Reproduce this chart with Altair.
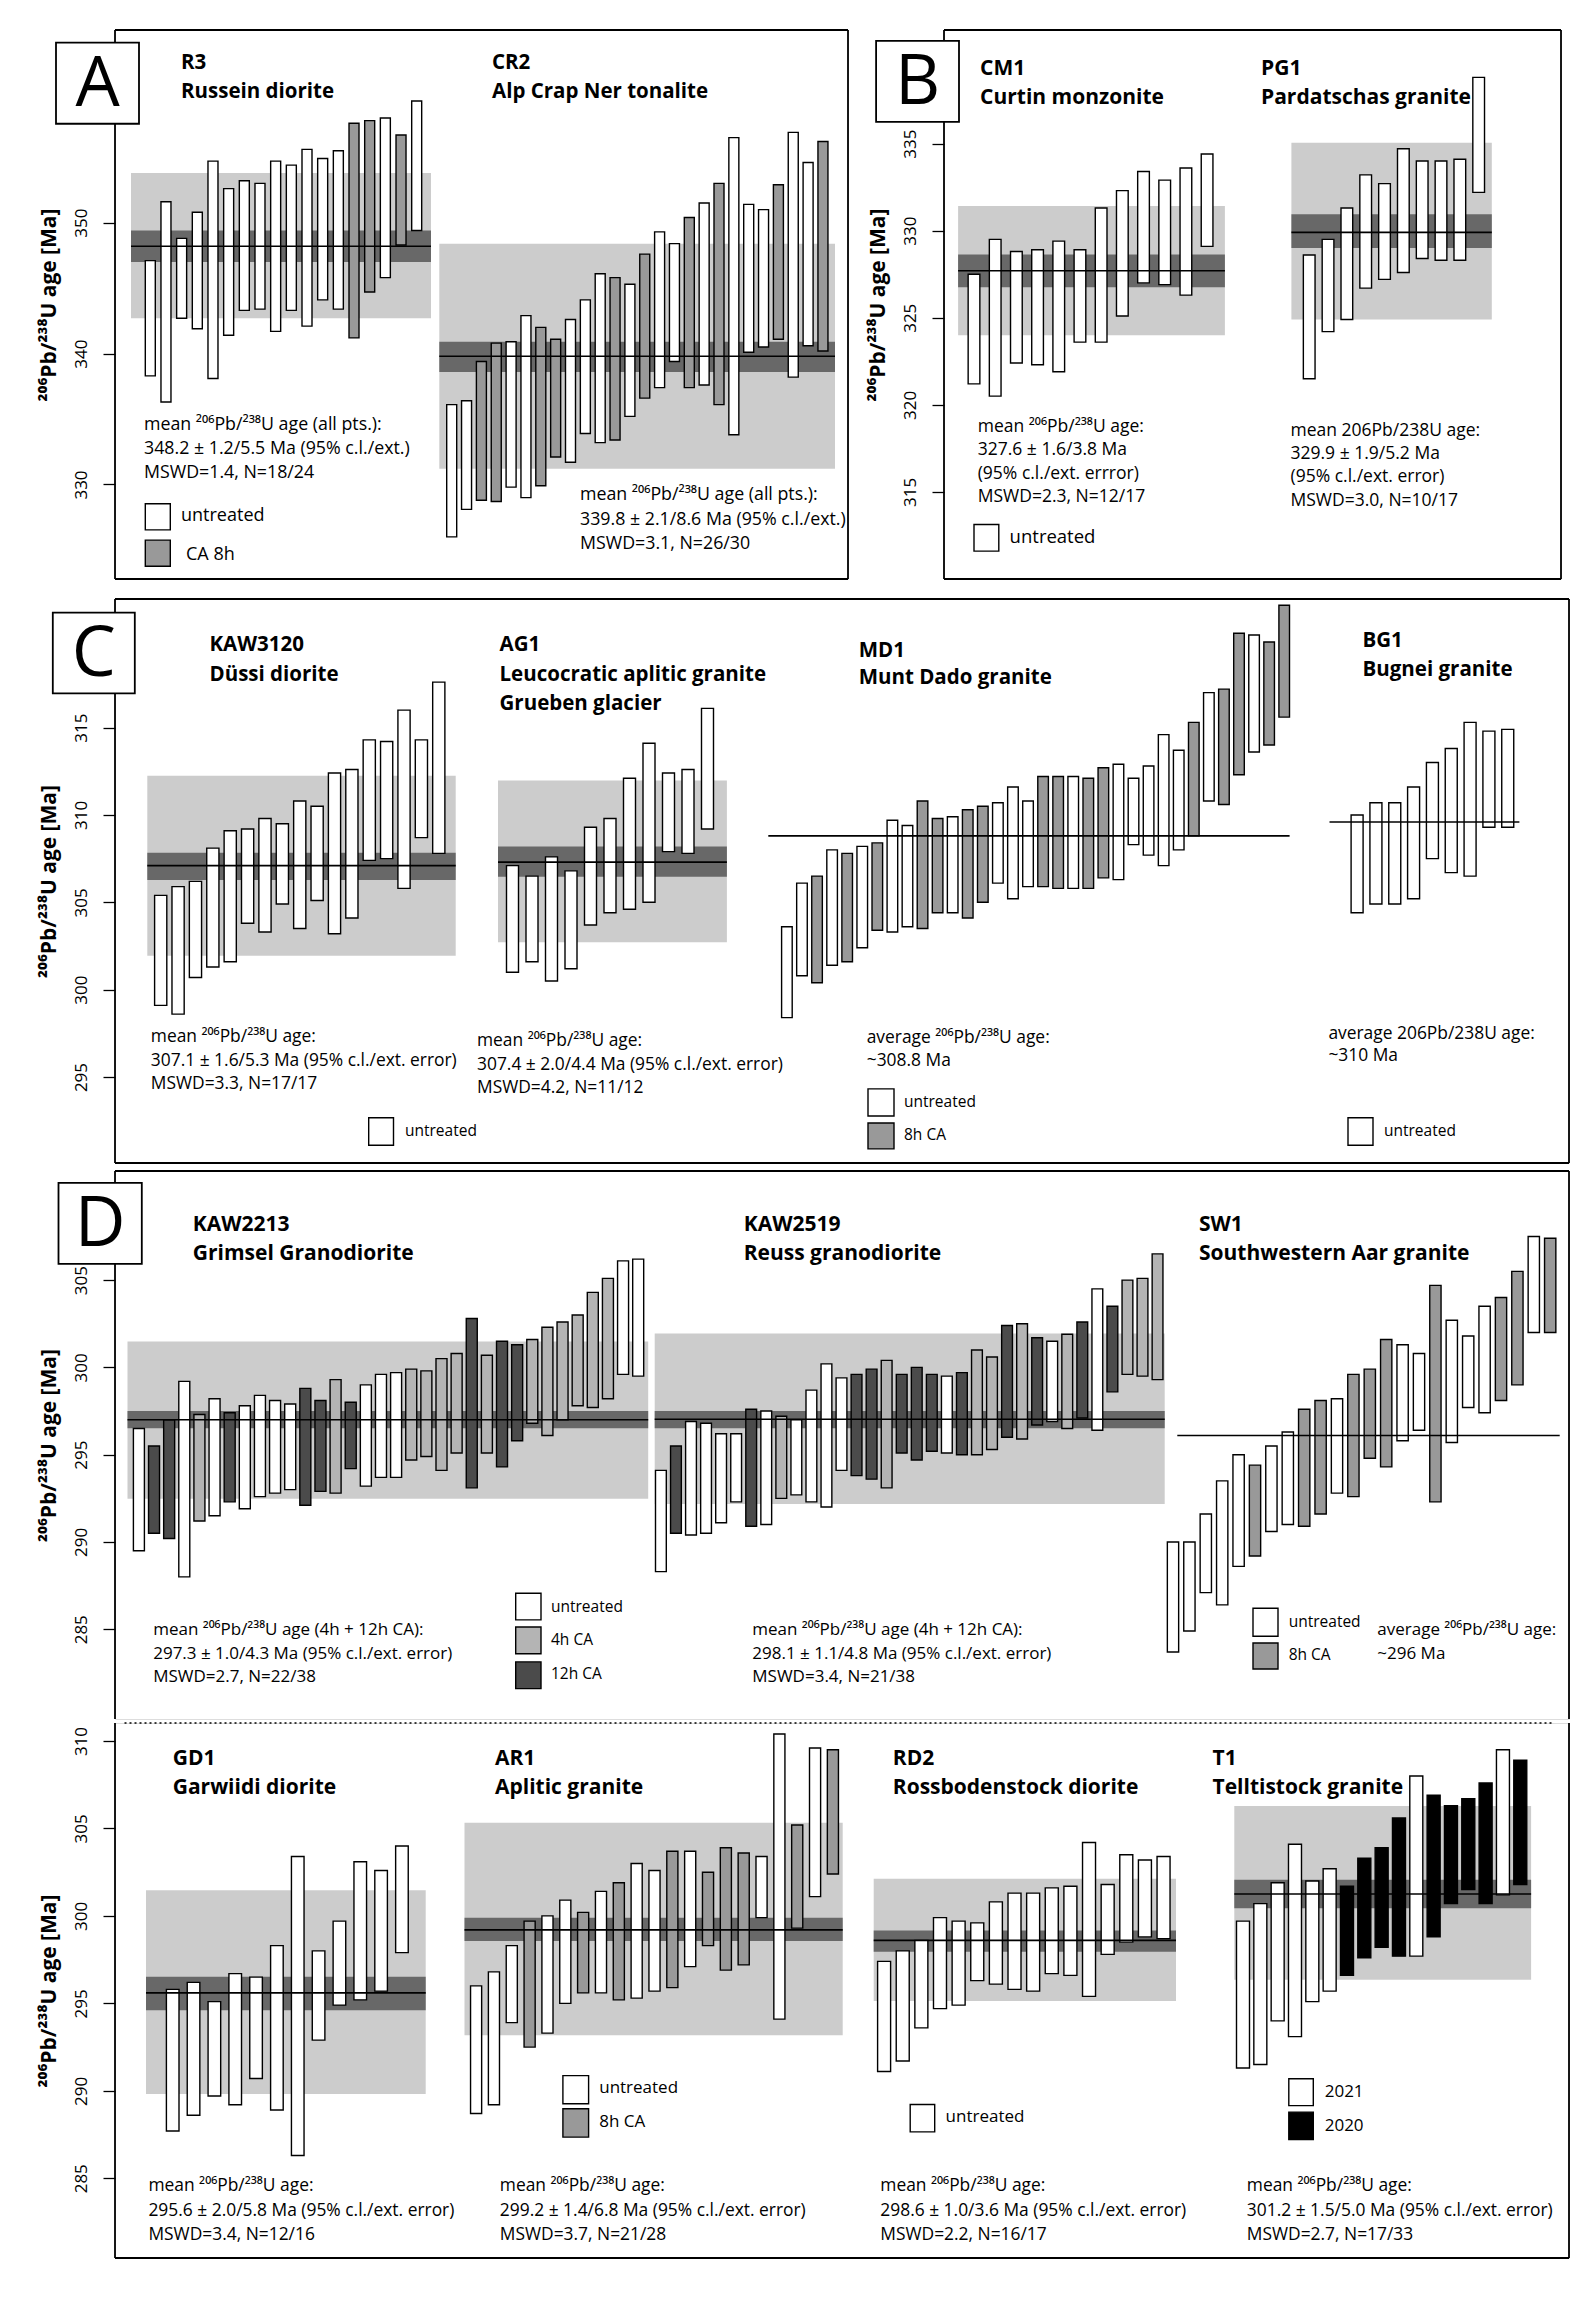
import altair as alt
import pandas as pd

FONT = "Open Sans"
FILL = {"U": "#ffffff", "G": "#999999", "L": "#b4b4b4", "D": "#4b4b4b", "K": "#000000"}
LIGHT_BAND = "#cccccc"
DARK_BAND = "#686868"
YTITLE = "²⁰⁶Pb/²³⁸U age [Ma]"

# ------------------------------------------------------------------ data
# A
R3_lo = [338.3, 336.3, 342.7, 341.9, 338.1, 341.4, 343.3, 343.4, 341.7, 343.3, 342.1, 344.1, 343.4, 341.2, 344.7, 345.8, 348.3, 349.4]
R3_hi = [347.1, 351.6, 348.8, 350.8, 354.7, 352.6, 353.2, 353.0, 354.7, 354.4, 355.6, 354.9, 355.5, 357.6, 357.8, 358.0, 356.7, 359.3]
R3_kind = "UUUUUUUUUUUUUGGUGU"
R3_sum = dict(mean=348.2, dark=(347.0, 349.4), light=(342.7, 353.8))

CR2_lo = [326.0, 328.1, 328.8, 328.7, 329.8, 329.0, 329.9, 332.1, 331.7, 333.9, 333.2, 333.4, 335.2, 336.6, 337.4, 339.4, 337.4, 337.6, 336.1, 333.8, 340.1, 340.5, 341.1, 338.2, 340.6, 340.2]
CR2_hi = [336.1, 336.4, 339.4, 340.8, 340.9, 342.9, 342.0, 341.1, 342.6, 344.1, 346.1, 345.8, 345.3, 347.6, 349.3, 348.4, 350.4, 351.5, 353.0, 356.5, 351.4, 351.0, 352.9, 356.9, 354.6, 356.2]
CR2_kind = "UUGGUUGGUUUGUGUUGUGUUUGUUG"
CR2_sum = dict(mean=339.8, dark=(338.6, 340.9), light=(331.2, 348.4))

# B
CM1_lo = [321.2, 320.5, 322.4, 322.3, 321.9, 323.6, 323.6, 325.1, 327.0, 326.9, 326.3, 329.1]
CM1_hi = [327.5, 329.5, 328.8, 328.9, 329.4, 328.9, 331.3, 332.3, 333.4, 332.9, 333.6, 334.4]
CM1_kind = "U" * 12
CM1_sum = dict(mean=327.7, dark=(326.75, 328.63), light=(324.0, 331.42))

PG1_lo = [321.5, 324.2, 324.9, 326.7, 327.2, 327.6, 328.4, 328.3, 328.3, 332.2]
PG1_hi = [328.6, 329.5, 331.3, 333.2, 332.7, 334.7, 334.0, 334.0, 334.1, 338.8]
PG1_kind = "U" * 10
PG1_sum = dict(mean=329.9, dark=(329.0, 330.94), light=(324.9, 335.04))

# C
KAW3120_lo = [299.1, 298.6, 300.7, 301.3, 301.6, 303.8, 303.3, 304.9, 303.5, 305.1, 303.2, 304.1, 307.4, 307.5, 305.8, 308.7, 307.8]
KAW3120_hi = [305.4, 305.9, 306.2, 308.1, 309.1, 309.2, 309.8, 309.5, 310.8, 310.5, 312.4, 312.6, 314.3, 314.2, 316.0, 314.3, 317.6]
KAW3120_kind = "U" * 17
KAW3120_sum = dict(mean=307.1, dark=(306.28, 307.84), light=(301.94, 312.24))

AG1_lo = [301.0, 301.6, 300.5, 301.2, 303.7, 304.4, 304.6, 305.0, 307.9, 307.8, 309.2]
AG1_hi = [307.1, 306.5, 307.6, 306.8, 309.3, 309.8, 312.1, 314.1, 312.4, 312.6, 316.1]
AG1_kind = "U" * 11
AG1_sum = dict(mean=307.3, dark=(306.47, 308.2), light=(302.72, 311.97))

MD1_lo = [298.4, 300.8, 300.4, 301.4, 301.6, 302.4, 303.4, 303.3, 303.6, 303.5, 304.4, 304.4, 304.1, 305.0, 306.1, 305.2, 305.9, 305.9, 305.8, 305.8, 305.8, 306.4, 306.3, 308.3, 307.7, 307.1, 308.0, 308.8, 310.8, 310.6, 312.3, 313.6, 314.0, 315.6]
MD1_hi = [303.6, 306.1, 306.5, 308.0, 307.8, 308.2, 308.4, 309.7, 309.4, 310.8, 309.8, 309.9, 310.3, 310.5, 310.7, 311.6, 310.8, 312.2, 312.2, 312.2, 312.1, 312.7, 312.9, 312.1, 312.8, 314.6, 313.7, 315.3, 317.0, 317.2, 320.4, 320.3, 319.9, 322.0]
MD1_kind = "UUGUGUGUUGGUGGUUUGGUGGUUUUUGUGGUGG"
MD1_avg = 308.8

BG1_lo = [304.4, 304.9, 304.9, 305.2, 307.5, 306.7, 306.5, 309.3, 309.3]
BG1_hi = [310.0, 310.7, 310.7, 311.6, 313.0, 313.8, 315.3, 314.8, 314.9]
BG1_kind = "U" * 9
BG1_avg = 309.6

# D (top row)
KAW2213_lo = [289.5, 290.5, 290.2, 288.0, 291.2, 291.5, 292.3, 291.9, 292.6, 292.8, 293.0, 292.1, 292.9, 292.8, 294.2, 293.2, 293.7, 293.7, 294.7, 294.9, 294.1, 295.1, 293.1, 295.1, 294.3, 295.8, 296.8, 296.1, 297.0, 297.8, 297.7, 298.2, 299.6, 299.5]
KAW2213_hi = [296.5, 295.5, 297.0, 299.2, 297.3, 298.2, 297.4, 297.8, 298.4, 298.1, 297.9, 298.8, 298.1, 299.3, 298.0, 299.0, 299.6, 299.7, 299.9, 299.8, 300.5, 300.8, 302.8, 300.7, 301.5, 301.3, 301.6, 302.3, 302.6, 303.0, 304.3, 305.1, 306.1, 306.2]
KAW2213_kind = "UDDULUDUUUUDDLDUUULLLLDLDDLLLLLLUU"
KAW2213_sum = dict(mean=297.0, dark=(296.52, 297.5), light=(292.47, 301.49))

KAW2519_lo = [288.3, 290.5, 290.4, 290.5, 291.1, 292.3, 290.9, 291.0, 292.5, 292.7, 292.3, 292.0, 294.1, 293.8, 293.6, 293.1, 295.1, 294.7, 295.2, 295.1, 295.0, 295.0, 295.3, 296.0, 295.9, 296.7, 296.9, 296.5, 297.1, 296.4, 298.6, 299.6, 299.5, 299.3]
KAW2519_hi = [294.1, 295.5, 296.9, 296.8, 296.2, 296.2, 297.6, 297.5, 297.2, 297.0, 298.7, 300.2, 299.4, 299.6, 299.9, 300.4, 299.6, 300.0, 299.6, 299.5, 299.7, 301.0, 300.6, 302.4, 302.5, 301.7, 301.5, 301.9, 302.6, 304.5, 303.5, 305.0, 305.1, 306.5]
KAW2519_kind = "UDUUUUDULUUUUDDLDDDUDLLDLDULDUDLLL"
KAW2519_sum = dict(mean=297.03, dark=(296.52, 297.5), light=(292.17, 301.94))

SW1_lo = [283.7, 284.9, 287.1, 286.4, 288.6, 289.2, 290.6, 291.0, 290.9, 291.6, 292.8, 292.6, 294.8, 294.3, 295.8, 296.4, 292.3, 295.7, 297.7, 297.4, 298.1, 299.0, 302.0, 302.0]
SW1_hi = [290.0, 290.0, 291.6, 293.5, 295.0, 294.4, 295.5, 296.3, 297.6, 298.1, 298.2, 299.6, 299.9, 301.6, 301.3, 300.8, 304.7, 302.7, 301.8, 303.5, 304.0, 305.5, 307.5, 307.4]
SW1_kind = "UUUUUGUUGGUGGGUUGUUUGGUG"
SW1_avg = 296.1

# D (bottom row)
GD1_lo = [287.7, 288.6, 289.7, 289.2, 290.7, 288.9, 286.3, 292.9, 294.9, 295.2, 295.7, 297.9]
GD1_hi = [295.8, 296.2, 295.1, 296.7, 296.5, 298.3, 303.4, 298.0, 299.7, 303.1, 302.6, 304.0]
GD1_kind = "U" * 12
GD1_sum = dict(mean=295.6, dark=(294.61, 296.52), light=(289.81, 301.47))

AR1_lo = [288.7, 289.2, 293.9, 292.5, 293.3, 295.0, 295.6, 295.6, 295.2, 295.3, 295.7, 295.9, 297.1, 298.3, 296.9, 297.2, 299.9, 294.1, 299.3, 301.1, 302.4]
AR1_hi = [296.0, 296.8, 298.3, 299.7, 300.0, 300.9, 300.2, 301.4, 301.9, 303.0, 302.6, 303.7, 303.7, 302.5, 303.9, 303.6, 303.4, 310.4, 305.2, 309.6, 309.5]
AR1_kind = "UUUGUUGUGUUGUGGGUUGUG"
AR1_sum = dict(mean=299.2, dark=(298.57, 299.89), light=(293.18, 305.33))

RD2_lo = [291.1, 291.7, 293.6, 294.7, 294.9, 296.3, 296.1, 295.8, 295.7, 296.7, 296.6, 295.4, 297.8, 298.5, 298.8, 298.7]
RD2_hi = [297.4, 298.0, 298.6, 299.9, 299.7, 299.6, 300.8, 301.3, 301.3, 301.6, 301.7, 304.2, 301.8, 303.5, 303.2, 303.4]
RD2_kind = "U" * 16
RD2_sum = dict(mean=298.6, dark=(297.95, 299.16), light=(295.14, 302.13))

T1_lo = [291.3, 291.5, 294.0, 293.1, 295.1, 295.7, 296.6, 297.6, 298.2, 297.7, 297.7, 298.8, 300.7, 301.5, 300.7, 301.2, 301.8]
T1_hi = [299.7, 300.7, 301.9, 304.1, 302.0, 302.7, 301.7, 303.3, 303.9, 305.6, 308.0, 306.9, 306.3, 306.7, 307.6, 309.5, 308.9]
T1_kind = "UUUUUUKKKKUKKKKUK"
T1_sum = dict(mean=301.25, dark=(300.44, 302.07), light=(296.35, 306.29))

# ------------------------------------------------------------------ text
MEAN = "mean ²⁰⁶Pb/²³⁸U age:"
AVG = "average ²⁰⁶Pb/²³⁸U age:"


def build(W, H, ydom, yticks, groups, titles, texts, legend_boxes, letter,
          frame, tsize, dotted=None):
    xs = alt.Scale(domain=[0, W], nice=False, zero=False)
    ys = alt.Scale(domain=list(ydom), nice=False, zero=False)
    yaxis = alt.Axis(values=yticks, title=YTITLE, domain=False, grid=False, ticks=True,
                     tickSize=12, tickColor="black", tickWidth=1.3,
                     labelAngle=270, labelAlign="center", labelBaseline="bottom",
                     labelPadding=13, labelFontSize=17, labelColor="black", labelFont=FONT,
                     titleFontSize=21, titleFontWeight="bold", titleFont=FONT,
                     titleColor="black", titlePadding=13)
    bars, bands, lines = [], [], []
    for g in groups:
        for i, (lo, hi, k) in enumerate(zip(g["lo"], g["hi"], g["kind"])):
            c = g["first"] + i * g["step"]
            bars.append(dict(x0=c - g["bw"] / 2, x1=c + g["bw"] / 2, y0=lo, y1=hi, fill=FILL[k]))
        if "sum" in g:
            s = g["sum"]
            bx0, bx1 = g["band"]
            bands.append(dict(x0=bx0, x1=bx1, y0=s["light"][0], y1=s["light"][1], fill=LIGHT_BAND))
            bands.append(dict(x0=bx0, x1=bx1, y0=s["dark"][0], y1=s["dark"][1], fill=DARK_BAND))
            lines.append(dict(x0=bx0, x1=bx1, y=s["mean"]))
        if "avg" in g:
            lines.append(dict(x0=g["band"][0], x1=g["band"][1], y=g["avg"]))
    for (x0, x1, y0, y1, k) in legend_boxes:
        bars.append(dict(x0=x0, x1=x1, y0=y0, y1=y1, fill=FILL[k]))

    ylo, yhi = ydom
    fr = []
    if "top" in frame:
        fr.append(dict(x0=0, x1=W, y0=yhi, y1=yhi))
    if "bottom" in frame:
        fr.append(dict(x0=0, x1=W, y0=ylo, y1=ylo))
    fr.append(dict(x0=0, x1=0, y0=ylo, y1=yhi))
    fr.append(dict(x0=W, x1=W, y0=ylo, y1=yhi))

    X = lambda f: alt.X(f, scale=xs, axis=None)
    Y = lambda f: alt.Y(f, scale=ys, axis=yaxis)

    band_layer = alt.Chart(pd.DataFrame(bands)).mark_rect(strokeWidth=0).encode(
        x=X("x0:Q"), x2="x1:Q", y=Y("y0:Q"), y2="y1:Q", fill=alt.Fill("fill:N", scale=None))

    bar_layer = alt.Chart(pd.DataFrame(bars)).mark_rect(stroke="black", strokeWidth=1.4).encode(
        x=X("x0:Q"), x2="x1:Q", y=Y("y0:Q"), y2="y1:Q",
        fill=alt.Fill("fill:N", scale=None))

    line_layer = alt.Chart(pd.DataFrame(lines)).mark_rule(color="black", strokeWidth=1.6).encode(
        x=X("x0:Q"), x2="x1:Q", y=Y("y:Q"))

    frame_layer = alt.Chart(pd.DataFrame(fr)).mark_rule(color="black", strokeWidth=1.8).encode(
        x=X("x0:Q"), x2="x1:Q", y=Y("y0:Q"), y2="y1:Q")

    layers = [band_layer, bar_layer, line_layer, frame_layer]

    if dotted is not None:
        dot_layer = alt.Chart(pd.DataFrame([dict(x0=dotted[0], x1=dotted[1], y=yhi)])).mark_rule(
            color="black", strokeWidth=1.3, strokeDash=[2, 3]).encode(
            x=X("x0:Q"), x2="x1:Q", y=Y("y:Q"))
        layers.append(dot_layer)

    if letter is not None:
        lx0, lx1, ly0, ly1, ch = letter
        lbox = alt.Chart(pd.DataFrame([dict(x0=lx0, x1=lx1, y0=ly0, y1=ly1)])).mark_rect(
            fill="white", stroke="black", strokeWidth=1.8).encode(
            x=X("x0:Q"), x2="x1:Q", y=Y("y0:Q"), y2="y1:Q")
        ltext = alt.Chart(pd.DataFrame([dict(x=(lx0 + lx1) / 2, y=(ly0 + ly1) / 2, t=ch)])).mark_text(
            fontSize=70, font=FONT, align="center", baseline="middle", dy=2, color="black").encode(
            x=X("x:Q"), y=Y("y:Q"), text="t:N")
        layers += [lbox, ltext]

    tdf = pd.DataFrame([dict(x=x, y=y, t=t) for (x, y, t) in titles])
    tl = alt.Chart(tdf).mark_text(fontSize=tsize, fontWeight="bold", font=FONT, align="left",
                                  baseline="middle", color="black").encode(
        x=X("x:Q"), y=Y("y:Q"), text="t:N")
    layers.append(tl)

    xdf = pd.DataFrame([dict(x=x, y=y, t=t, s=s) for (x, y, t, s) in texts])
    xl = alt.Chart(xdf).mark_text(font=FONT, align="left", baseline="middle", color="black").encode(
        x=X("x:Q"), y=Y("y:Q"), text="t:N", size=alt.Size("s:Q", scale=None))
    layers.append(xl)

    return alt.layer(*layers).properties(width=W, height=H)


def stat_lines(x, ys_, lines, s):
    return [(x, y, t, s) for y, t in zip(ys_, lines)]


# ------------------------------------------------------------------ section A
SA, LA = 17.8, 18
A = build(
    W=733, H=549, ydom=(322.78, 364.72), yticks=[330, 340, 350],
    groups=[
        dict(lo=R3_lo, hi=R3_hi, kind=R3_kind, sum=R3_sum, first=35.3, step=15.67, bw=10, band=(16, 316)),
        dict(lo=CR2_lo, hi=CR2_hi, kind=CR2_kind, sum=CR2_sum, first=336.7, step=14.85, bw=10, band=(324.3, 720)),
    ],
    titles=[(66, 362.2, "R3"), (66, 360.0, "Russein diorite"),
            (377, 362.2, "CR2"), (377, 360.0, "Alp Crap Ner tonalite")],
    texts=stat_lines(29, [334.58, 332.69, 330.89],
                     ["mean ²⁰⁶Pb/²³⁸U age (all pts.):", "348.2 ± 1.2/5.5 Ma (95% c.l./ext.)", "MSWD=1.4, N=18/24"], SA)
    + stat_lines(465, [329.17, 327.28, 325.47],
                 ["mean ²⁰⁶Pb/²³⁸U age (all pts.):", "339.8 ± 2.1/8.6 Ma (95% c.l./ext.)", "MSWD=3.1, N=26/30"], SA)
    + [(66, 327.56, "untreated", LA), (71, 324.58, "CA 8h", LA)],
    legend_boxes=[(30.3, 55.3, 326.53, 328.53, "U"), (30.3, 55.3, 323.75, 325.75, "G")],
    letter=(-59, 24, 357.56, 363.75, "A"),
    frame=("top", "bottom"), tsize=20.5)

# ------------------------------------------------------------------ section B
SB, LB = 17.5, 18.5
B = build(
    W=617, H=549, ydom=(310.0, 341.52), yticks=[315, 320, 325, 330, 335],
    groups=[
        dict(lo=CM1_lo, hi=CM1_hi, kind=CM1_kind, sum=CM1_sum, first=30, step=21.19, bw=11.7, band=(14.1, 280.9)),
        dict(lo=PG1_lo, hi=PG1_hi, kind=PG1_kind, sum=PG1_sum, first=365.2, step=18.83, bw=11.7, band=(347.4, 547.8)),
    ],
    titles=[(36.1, 339.27, "CM1"), (36.1, 337.6, "Curtin monzonite"),
            (317, 339.27, "PG1"), (317, 337.6, "Pardatschas granite")],
    texts=stat_lines(33.7, [318.71, 317.4, 316.04, 314.69],
                     [MEAN, "327.6 ± 1.6/3.8 Ma", "(95% c.l./ext. errror)", "MSWD=2.3, N=12/17"], SB)
    + stat_lines(346.5, [318.5, 317.19, 315.83, 314.48],
                 ["mean 206Pb/238U age:", "329.9 ± 1.9/5.2 Ma", "(95% c.l./ext. error)", "MSWD=3.0, N=10/17"], SB)
    + [(65.6, 312.4, "untreated", LB)],
    legend_boxes=[(30, 54.8, 311.6, 313.13, "U")],
    letter=(-67.9, 15, 336.25, 340.9, "B"),
    frame=("top", "bottom"), tsize=21)

# ------------------------------------------------------------------ section C
SC, LC = 17.4, 15.5
C = build(
    W=1454, H=564, ydom=(290.08, 322.36), yticks=[295, 300, 305, 310, 315],
    groups=[
        dict(lo=KAW3120_lo, hi=KAW3120_hi, kind=KAW3120_kind, sum=KAW3120_sum, first=45.7, step=17.38, bw=12.2, band=(32.3, 340.7)),
        dict(lo=AG1_lo, hi=AG1_hi, kind=AG1_kind, sum=AG1_sum, first=397.5, step=19.5, bw=12, band=(383, 611.9)),
        dict(lo=MD1_lo, hi=MD1_hi, kind=MD1_kind, avg=MD1_avg, first=671.9, step=15.07, bw=10.6, band=(653.3, 1174.6)),
        dict(lo=BG1_lo, hi=BG1_hi, kind=BG1_kind, avg=BG1_avg, first=1242.1, step=18.83, bw=12, band=(1214.5, 1404.4)),
    ],
    titles=[(94.5, 319.71, "KAW3120"), (94.5, 318.02, "Düssi diorite"),
            (384.5, 319.71, "AG1"), (384.5, 318.02, "Leucocratic aplitic granite"), (384.5, 316.33, "Grueben glacier"),
            (743.7, 319.4, "MD1"), (743.7, 317.81, "Munt Dado granite"),
            (1247.5, 319.93, "BG1"), (1247.5, 318.3, "Bugnei granite")],
    texts=stat_lines(35.8, [297.28, 295.9, 294.59],
                     [MEAN, "307.1 ± 1.6/5.3 Ma (95% c.l./ext. error)", "MSWD=3.3, N=17/17"], SC)
    + stat_lines(362, [297.07, 295.69, 294.38],
                 [MEAN, "307.4 ± 2.0/4.4 Ma (95% c.l./ext. error)", "MSWD=4.2, N=11/12"], SC)
    + stat_lines(751.7, [297.24, 295.9], [AVG, "~308.8 Ma"], SC)
    + stat_lines(1213.4, [297.49, 296.22], ["average 206Pb/238U age:", "~310 Ma"], SC)
    + [(290, 291.93, "untreated", LC), (789, 293.58, "untreated", LC), (789, 291.67, "8h CA", LC),
       (1269, 291.93, "untreated", LC)],
    legend_boxes=[(253.7, 278.5, 291.1, 292.67, "U"),
                  (753, 779, 292.77, 294.32, "U"), (753, 779, 290.89, 292.37, "G"),
                  (1233, 1258, 291.1, 292.67, "U")],
    letter=(-62.2, 19.8, 316.96, 321.58, "C"),
    frame=("top", "bottom"), tsize=20.5)

# ------------------------------------------------------------------ section D (top)
SD, LD = 17, 15.5
Dtop = build(
    W=1454, H=548, ydom=(279.86, 311.25), yticks=[285, 290, 295, 300, 305],
    groups=[
        dict(lo=KAW2213_lo, hi=KAW2213_hi, kind=KAW2213_kind, sum=KAW2213_sum, first=23.9, step=15.13, bw=11, band=(12.5, 533.2)),
        dict(lo=KAW2519_lo, hi=KAW2519_hi, kind=KAW2519_kind, sum=KAW2519_sum, first=545.9, step=15.05, bw=10.8, band=(539.7, 1049.7)),
        dict(lo=SW1_lo, hi=SW1_hi, kind=SW1_kind, avg=SW1_avg, first=1058, step=16.4, bw=11.3, band=(1062.3, 1444.7)),
    ],
    titles=[(77.8, 308.18, "KAW2213"), (77.8, 306.48, "Grimsel Granodiorite"),
            (628.7, 308.18, "KAW2519"), (628.7, 306.48, "Reuss granodiorite"),
            (1084, 308.18, "SW1"), (1084, 306.48, "Southwestern Aar granite")],
    texts=stat_lines(38.2, [284.97, 283.58, 282.25],
                     ["mean ²⁰⁶Pb/²³⁸U age (4h + 12h CA):", "297.3 ± 1.0/4.3 Ma (95% c.l./ext. error)", "MSWD=2.7, N=22/38"], SD)
    + stat_lines(637.3, [284.97, 283.58, 282.25],
                 ["mean ²⁰⁶Pb/²³⁸U age (4h + 12h CA):", "298.1 ± 1.1/4.8 Ma (95% c.l./ext. error)", "MSWD=3.4, N=21/38"], SD)
    + stat_lines(1262.3, [284.97, 283.58], [AVG, "~296 Ma"], SD)
    + [(436, 286.3, "untreated", LD), (436, 284.4, "4h CA", LD), (436, 282.41, "12h CA", LD),
       (1173.7, 285.44, "untreated", LD), (1173.7, 283.54, "8h CA", LD)],
    legend_boxes=[(400.7, 426, 285.54, 287.06, "U"), (400.7, 426, 283.6, 285.13, "L"), (400.7, 426, 281.6, 283.13, "D"),
                  (1138, 1163, 284.6, 286.2, "U"), (1138, 1163, 282.72, 284.21, "G")],
    letter=(-56.5, 26.8, 305.93, 310.57, "D"),
    frame=("top",), tsize=21)

# ------------------------------------------------------------------ section D (bottom)
SE, LE = 17.4, 17
Dbot = build(
    W=1454, H=535, ydom=(280.44, 311.03), yticks=[285, 290, 295, 300, 305, 310],
    groups=[
        dict(lo=GD1_lo, hi=GD1_hi, kind=GD1_kind, sum=GD1_sum, first=57.7, step=20.84, bw=12.6, band=(31, 310.7)),
        dict(lo=AR1_lo, hi=AR1_hi, kind=AR1_kind, sum=AR1_sum, first=361.1, step=17.84, bw=11.1, band=(349.5, 727.7)),
        dict(lo=RD2_lo, hi=RD2_hi, kind=RD2_kind, sum=RD2_sum, first=769.1, step=18.63, bw=13, band=(758.7, 1061)),
        dict(lo=T1_lo, hi=T1_hi, kind=T1_kind, sum=T1_sum, first=1128, step=17.33, bw=13, band=(1119.3, 1416.1)),
    ],
    titles=[(57.7, 308.96, "GD1"), (57.7, 307.31, "Garwiidi diorite"),
            (380, 308.96, "AR1"), (380, 307.31, "Aplitic granite"),
            (777.8, 308.96, "RD2"), (777.8, 307.31, "Rossbodenstock diorite"),
            (1097.5, 308.96, "T1"), (1097.5, 307.31, "Telltistock granite")],
    texts=stat_lines(33.4, [284.53, 283.1, 281.78],
                     [MEAN, "295.6 ± 2.0/5.8 Ma (95% c.l./ext. error)", "MSWD=3.4, N=12/16"], SE)
    + stat_lines(384.8, [284.53, 283.1, 281.78],
                 [MEAN, "299.2 ± 1.4/6.8 Ma (95% c.l./ext. error)", "MSWD=3.7, N=21/28"], SE)
    + stat_lines(765.3, [284.53, 283.1, 281.78],
                 [MEAN, "298.6 ± 1.0/3.6 Ma (95% c.l./ext. error)", "MSWD=2.2, N=16/17"], SE)
    + stat_lines(1131.8, [284.53, 283.1, 281.78],
                 [MEAN, "301.2 ± 1.5/5.0  Ma (95% c.l./ext. error)", "MSWD=2.7, N=17/33"], SE)
    + [(484.2, 290.14, "untreated", LE), (484.2, 288.23, "8h CA", LE),
       (830.6, 288.49, "untreated", LE),
       (1209.7, 289.92, "2021", LE), (1209.7, 288.0, "2020", LE)],
    legend_boxes=[(447.9, 473.6, 289.26, 290.87, "U"), (447.9, 473.6, 287.35, 288.97, "G"),
                  (795.2, 819.7, 287.65, 289.22, "U"),
                  (1173.8, 1198.3, 289.15, 290.69, "U"), (1173.8, 1198.3, 287.21, 288.78, "K")],
    letter=None,
    frame=("bottom",), tsize=21, dotted=(9.5, 1439))

ind = dict(x="independent", y="independent")
row1 = alt.hconcat(A, B, spacing=96, bounds="flush").resolve_scale(**ind)
upper = alt.vconcat(row1, C, spacing=16).resolve_scale(**ind)
lower = alt.vconcat(Dtop, Dbot, spacing=0).resolve_scale(**ind)
chart = alt.vconcat(upper, lower, spacing=4).resolve_scale(**ind).properties(
    padding={"left": 29, "top": 20, "right": 5, "bottom": 5}
).configure_view(stroke=None).configure(font=FONT)

chart.save("out.html", embed_options={"renderer": "svg", "actions": False})
